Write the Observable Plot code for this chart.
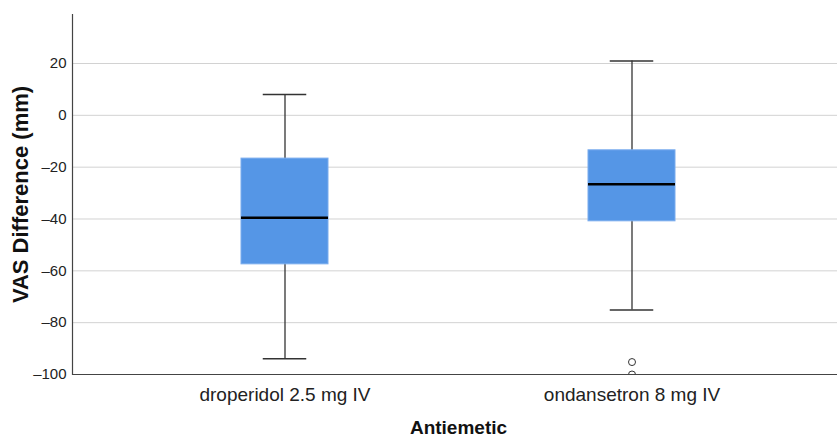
<!DOCTYPE html>
<html>
<head>
<meta charset="utf-8">
<script src="https://cdn.jsdelivr.net/npm/d3@7"></script>
<script src="https://cdn.jsdelivr.net/npm/@observablehq/plot@0.6"></script>
<style>
  html, body { margin: 0; padding: 0; background: #fff; }
  #chart svg { display: block; }
</style>
</head>
<body>
<div id="chart"></div>
<script>
const groups = ["droperidol 2.5 mg IV", "ondansetron 8 mg IV"];
const whiskerLow = [-93.9, -75.1];
const q1 = [-57.5, -40.9];
const median = [-39.5, -26.6];
const q3 = [-16.7, -13.5];
const whiskerHigh = [8.0, 21.0];
const outlierGroup = ["ondansetron 8 mg IV", "ondansetron 8 mg IV"];
const outlierValue = [-95.2, -100];
const yTicks = [20, 0, -20, -40, -60, -80, -100];
const yLabel = "VAS Difference (mm)";
const xLabel = "Antiemetic";

const rows = groups.map((g, i) => ({
  group: g, low: whiskerLow[i], q1: q1[i], median: median[i], q3: q3[i], high: whiskerHigh[i]
}));
const outliers = outlierGroup.map((g, i) => ({group: g, value: outlierValue[i]}));

const font = "Liberation Sans, Arial, sans-serif";

const chart = Plot.plot({
  width: 837,
  height: 438,
  marginLeft: 72,
  marginRight: 0,
  marginTop: 14,
  marginBottom: 64,
  style: {fontFamily: font, color: "#222", background: "#fff"},
  x: {type: "band", domain: groups, range: [240.5, 674.5], paddingInner: 0.7493, paddingOuter: 0, align: 0.5},
  y: {domain: [-100, 38.9]},
  marks: [
    Plot.ruleY(yTicks.filter(d => d !== -100), {stroke: "#d2d2d2", strokeWidth: 1}),
    Plot.ruleX(rows, {x: "group", y1: "low", y2: "high", stroke: "#333", strokeWidth: 1.3}),
    Plot.tickY(rows, {x: "group", y: "low", stroke: "#333", strokeWidth: 1.5, insetLeft: 21.75, insetRight: 21.75}),
    Plot.tickY(rows, {x: "group", y: "high", stroke: "#333", strokeWidth: 1.5, insetLeft: 21.75, insetRight: 21.75}),
    Plot.barY(rows, {x: "group", y1: "q1", y2: "q3", fill: "#5596e6", stroke: "#7aacee", strokeWidth: 1}),
    Plot.tickY(rows, {x: "group", y: "median", stroke: "#000", strokeWidth: 2.5}),
    Plot.dot(outliers, {x: "group", y: "value", r: 3.5, stroke: "#333", fill: "#fff", strokeWidth: 1, clip: true}),
    Plot.ruleY([-100], {stroke: "#444", strokeWidth: 1.2}),
    Plot.frame({anchor: "left", stroke: "#444", strokeWidth: 1.2}),
    Plot.axisY(yTicks, {tickSize: 0, tickPadding: 6, fontSize: 15, label: null, fill: "#222",
      tickFormat: d => d < 0 ? "\u2013" + Math.abs(d) : String(d)}),
    Plot.axisX({tickSize: 0, tickPadding: 13, fontSize: 19, label: null, fill: "#222"}),
    Plot.text([yLabel], {frameAnchor: "left", textAnchor: "middle", lineAnchor: "middle", dx: -52, rotate: -90, fontSize: 22, fontWeight: "bold", fill: "#111"}),
    Plot.text([xLabel], {frameAnchor: "bottom", textAnchor: "middle", lineAnchor: "middle", dx: 3.5, dy: 53, fontSize: 19, fontWeight: "bold", fill: "#111"})
  ]
});
document.getElementById("chart").appendChild(chart);
</script>
</body>
</html>
